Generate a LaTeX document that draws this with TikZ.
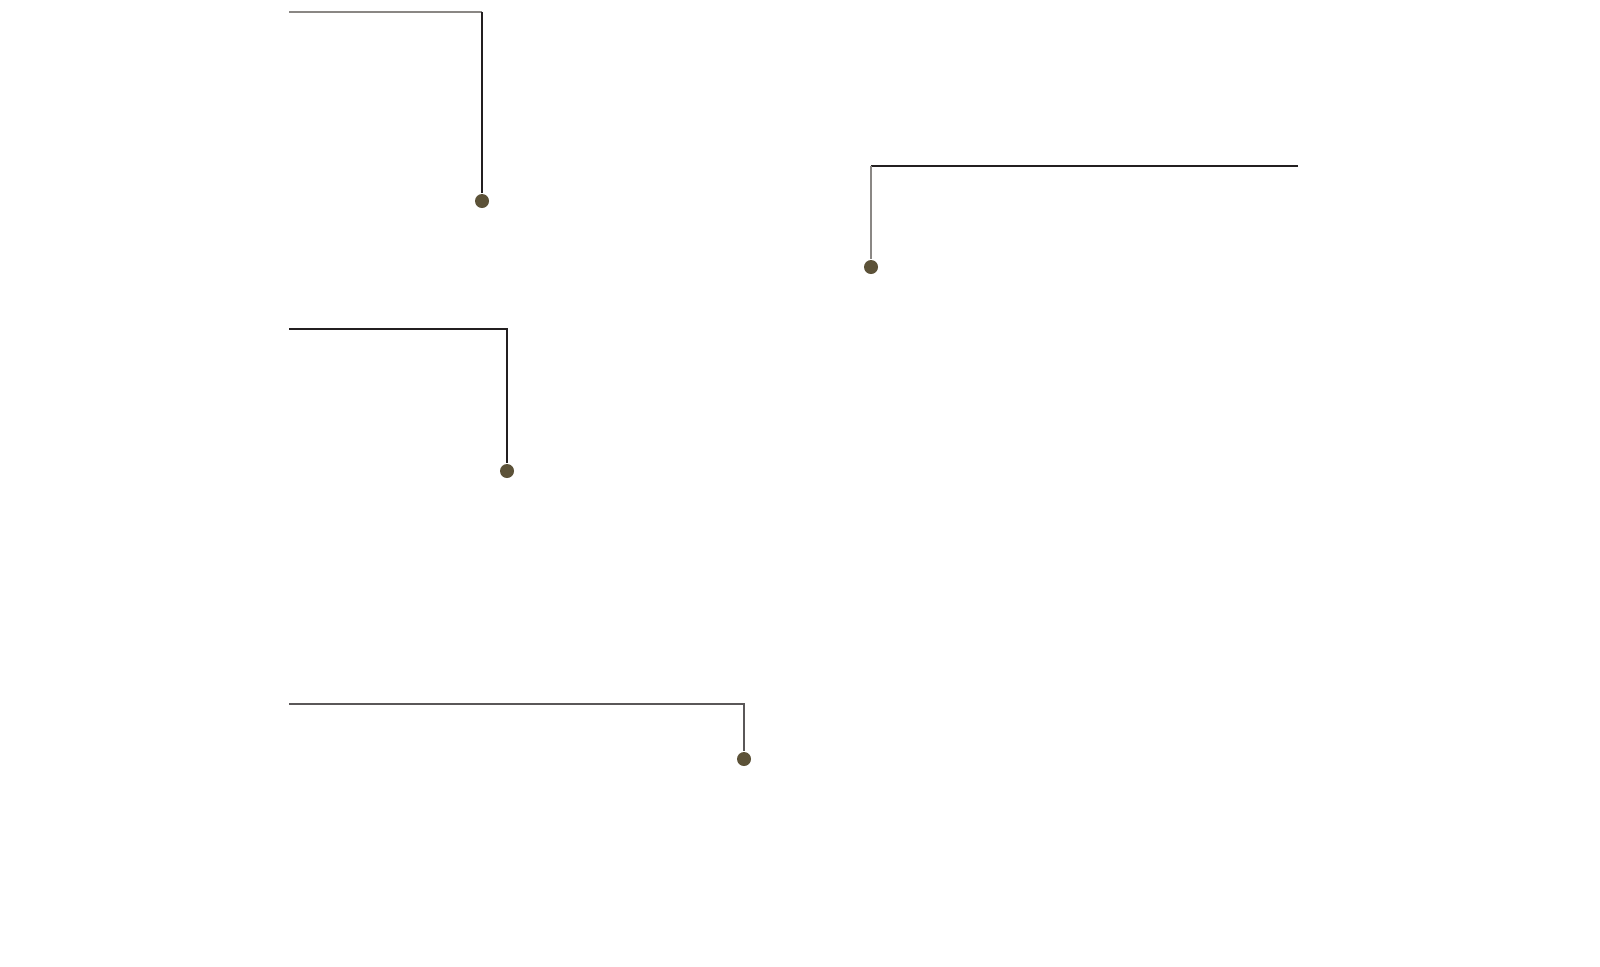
\documentclass[tikz,border=0pt]{standalone}
\usepackage{tikz}
\definecolor{dotbrown}{HTML}{5C5238}
\definecolor{lightline}{HTML}{8A8784}
\definecolor{darkline}{HTML}{231F20}
\tikzset{dot/.style={circle, inner sep=0pt, minimum size=0.14cm, fill=dotbrown}}
\tikzset{leader/.style={line width=0.45pt, color=darkline}}

\begin{document}
\begin{tikzpicture}[x=0.01cm, y=-0.01cm]
    \useasboundingbox (0,0) rectangle (1600,966);
    \coordinate (a0) at (289,12);
    \coordinate (b0) at (1298,166);
    \coordinate (c0) at (289,329);
    \coordinate (d0) at (289,704);
    \node[dot] (a) at (482,201) {};
    \node[dot] (b) at (871,267) {};
    \node[dot] (c) at (507,471) {};
    \node[dot] (d) at (744,759) {};
    \draw[leader, color=lightline] (a0) -- (a0 -| a);
    \draw[leader] (a0 -| a) -- (a);
    \draw[leader] (b0) -- (b0 -| b);
    \draw[leader, color=lightline] (b0 -| b) -- (b);
    \draw[leader] (c0) -| (c);
    \draw[leader, color=darkline!75] (d0) -| (d);
\end{tikzpicture}
\end{document}
